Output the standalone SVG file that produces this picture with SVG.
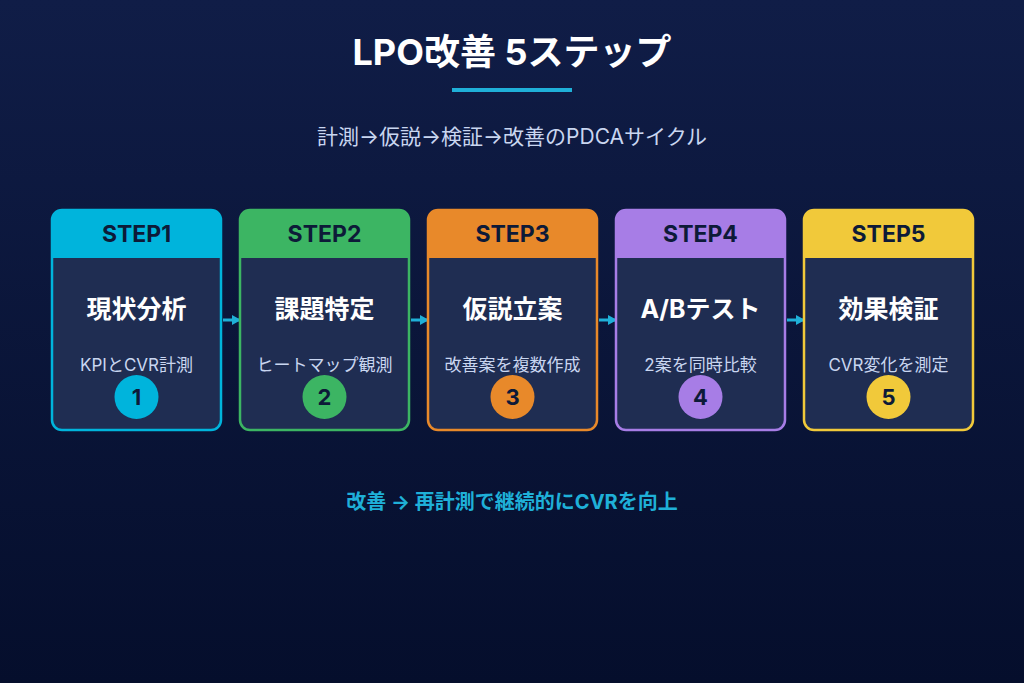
<svg xmlns="http://www.w3.org/2000/svg" width="1024" height="683" viewBox="0 0 1024 683">
<defs>
<linearGradient id="bg" x1="0" y1="0" x2="0" y2="1"><stop offset="0" stop-color="#101d47"/><stop offset="1" stop-color="#050e2c"/></linearGradient>
<marker id="ah" markerWidth="9" markerHeight="10" refX="8" refY="5" orient="auto" markerUnits="userSpaceOnUse"><path d="M0,0 L9,5 L0,10 Z" fill="#1fb0d8"/></marker>
<style>
text{font-family:Inter,"Noto Sans CJK JP",sans-serif;text-anchor:middle}
.body{fill:#1f2d52;stroke-width:2.5}
.hd{font-size:23px;font-weight:700;fill:#0d1a38}
.ttl{font-size:25px;font-weight:700;fill:#ffffff}
.sub{font-size:17px;fill:#c9d6f0}
.num{font-size:22px;font-weight:700;fill:#0d1a38}
.con{stroke:#1fb0d8;stroke-width:3;fill:none}
</style>
</defs>
<rect width="1024" height="683" fill="url(#bg)"/>
<text x="512" y="65" style="font-size:36px;font-weight:700;fill:#fff">LPO改善 5ステップ</text>
<rect x="452" y="88" width="120" height="4" fill="#1fb0d8"/>
<text x="512" y="144" style="font-size:21px;fill:#c9d6f0">計測→仮説→検証→改善のPDCAサイクル</text>
<g id="connectors">
<line class="con" x1="223" y1="320" x2="240" y2="320" marker-end="url(#ah)"/>
<line class="con" x1="411" y1="320" x2="428" y2="320" marker-end="url(#ah)"/>
<line class="con" x1="599" y1="320" x2="616" y2="320" marker-end="url(#ah)"/>
<line class="con" x1="787" y1="320" x2="804" y2="320" marker-end="url(#ah)"/>
</g>
<g id="step1">
<rect class="body" x="52" y="210" width="169" height="220" rx="10" stroke="#00b4dc"/>
<path d="M52,258 V220 a10,10 0 0 1 10,-10 H211 a10,10 0 0 1 10,10 V258 Z" fill="#00b4dc"/>
<text class="hd" x="136.5" y="242">STEP1</text>
<text class="ttl" x="136.5" y="318">現状分析</text>
<text class="sub" x="136.5" y="371">KPIとCVR計測</text>
<circle cx="136.5" cy="397" r="22" fill="#00b4dc"/>
<text class="num" x="136.5" y="405">1</text>
</g>
<g id="step2">
<rect class="body" x="240" y="210" width="169" height="220" rx="10" stroke="#3cb563"/>
<path d="M240,258 V220 a10,10 0 0 1 10,-10 H399 a10,10 0 0 1 10,10 V258 Z" fill="#3cb563"/>
<text class="hd" x="324.5" y="242">STEP2</text>
<text class="ttl" x="324.5" y="318">課題特定</text>
<text class="sub" x="324.5" y="371">ヒートマップ観測</text>
<circle cx="324.5" cy="397" r="22" fill="#3cb563"/>
<text class="num" x="324.5" y="405">2</text>
</g>
<g id="step3">
<rect class="body" x="428" y="210" width="169" height="220" rx="10" stroke="#e8892a"/>
<path d="M428,258 V220 a10,10 0 0 1 10,-10 H587 a10,10 0 0 1 10,10 V258 Z" fill="#e8892a"/>
<text class="hd" x="512.5" y="242">STEP3</text>
<text class="ttl" x="512.5" y="318">仮説立案</text>
<text class="sub" x="512.5" y="371">改善案を複数作成</text>
<circle cx="512.5" cy="397" r="22" fill="#e8892a"/>
<text class="num" x="512.5" y="405">3</text>
</g>
<g id="step4">
<rect class="body" x="616" y="210" width="169" height="220" rx="10" stroke="#a77de6"/>
<path d="M616,258 V220 a10,10 0 0 1 10,-10 H775 a10,10 0 0 1 10,10 V258 Z" fill="#a77de6"/>
<text class="hd" x="700.5" y="242">STEP4</text>
<text class="ttl" x="700.5" y="318">A/Bテスト</text>
<text class="sub" x="700.5" y="371">2案を同時比較</text>
<circle cx="700.5" cy="397" r="22" fill="#a77de6"/>
<text class="num" x="700.5" y="405">4</text>
</g>
<g id="step5">
<rect class="body" x="804" y="210" width="169" height="220" rx="10" stroke="#f1c93a"/>
<path d="M804,258 V220 a10,10 0 0 1 10,-10 H963 a10,10 0 0 1 10,10 V258 Z" fill="#f1c93a"/>
<text class="hd" x="888.5" y="242">STEP5</text>
<text class="ttl" x="888.5" y="318">効果検証</text>
<text class="sub" x="888.5" y="371">CVR変化を測定</text>
<circle cx="888.5" cy="397" r="22" fill="#f1c93a"/>
<text class="num" x="888.5" y="405">5</text>
</g>
<text x="512" y="509" style="font-size:20px;font-weight:700;fill:#1fb0d8">改善 → 再計測で継続的にCVRを向上</text>
</svg>
